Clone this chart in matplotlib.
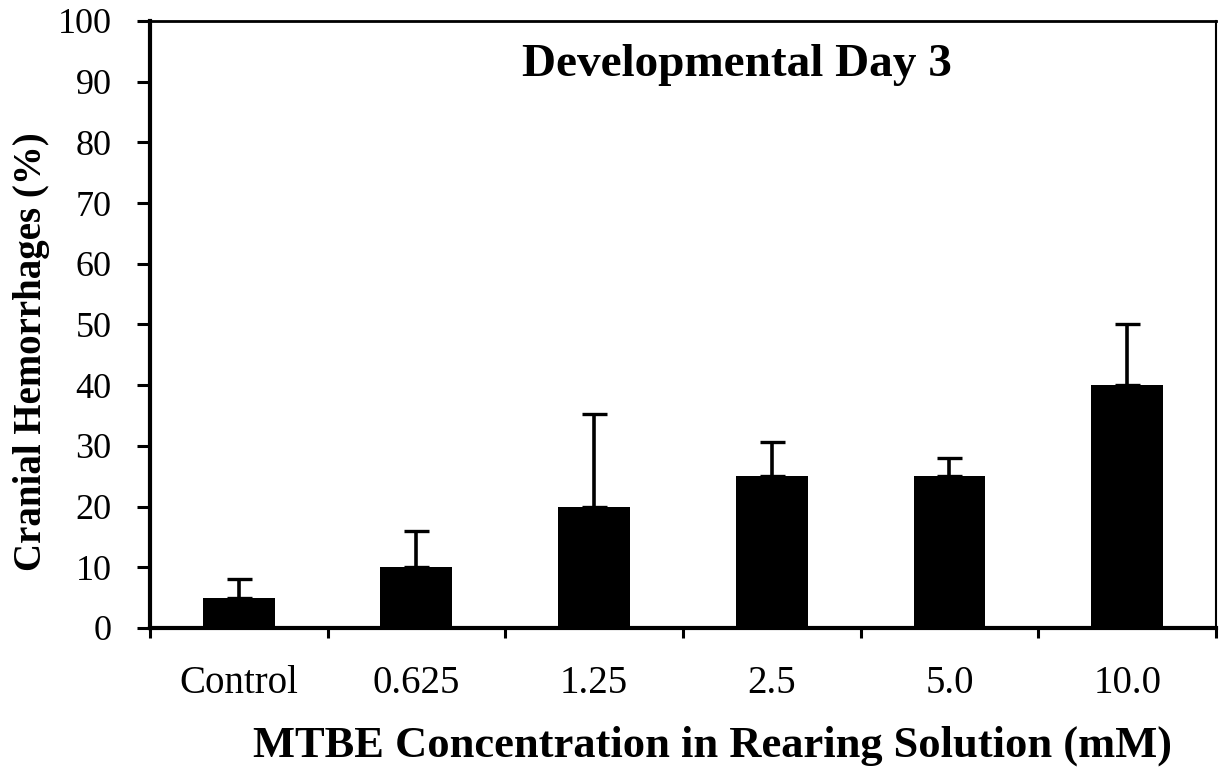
import numpy as np
import matplotlib
matplotlib.use("Agg")
import matplotlib.pyplot as plt

# values
categories = ["Control", "0.625", "1.25", "2.5", "5.0", "10.0"]
means = [5, 10, 20, 25, 25, 40]
err_up = [3, 6, 15.3, 5.7, 3, 10]

plt.rcParams["font.family"] = ["Liberation Serif", "DejaVu Serif"]

fig = plt.figure(figsize=(12.22, 7.69), dpi=100)
ax = fig.add_axes([0.1227, 0.1834, 0.8724, 0.7893])

x = np.arange(len(categories))
ax.bar(x, means, width=0.405, color="black", zorder=3)
ax.errorbar(x, means, yerr=[np.zeros(len(means)), err_up], fmt="none",
            ecolor="black", elinewidth=2.6, capsize=9, capthick=2.4, zorder=2)

ax.set_xlim(-0.5, len(categories) - 0.5)
ax.set_ylim(0, 100)
ax.set_yticks(np.arange(0, 101, 10))

# labels under the bars, tick marks between the categories
ax.set_xticks(x)
ax.set_xticklabels(categories)
ax.set_xticks(np.arange(-0.5, len(categories), 1), minor=True)
ax.tick_params(axis="x", which="major", length=0, pad=27, labelsize=28)
ax.tick_params(axis="x", which="minor", length=7.5, width=2.2, direction="out")
ax.tick_params(axis="y", length=9.5, width=2.2, direction="out", pad=18, labelsize=26)

ax.spines["left"].set_linewidth(3)
ax.spines["bottom"].set_linewidth(3)
ax.spines["top"].set_linewidth(2)
ax.spines["right"].set_linewidth(1.5)

ax.set_xlabel("MTBE Concentration in Rearing Solution (mM)", fontsize=32,
              fontweight="bold")
ax.xaxis.set_label_coords(0.528, -0.160)
ax.set_ylabel("Cranial Hemorrhages (%)", fontsize=28, fontweight="bold")
ax.yaxis.set_label_coords(-0.094, 0.455)

ax.text(0.551, 0.927, "Developmental Day 3", transform=ax.transAxes,
        ha="center", va="center", fontsize=34, fontweight="bold")

fig.savefig("out.png", dpi=100)
